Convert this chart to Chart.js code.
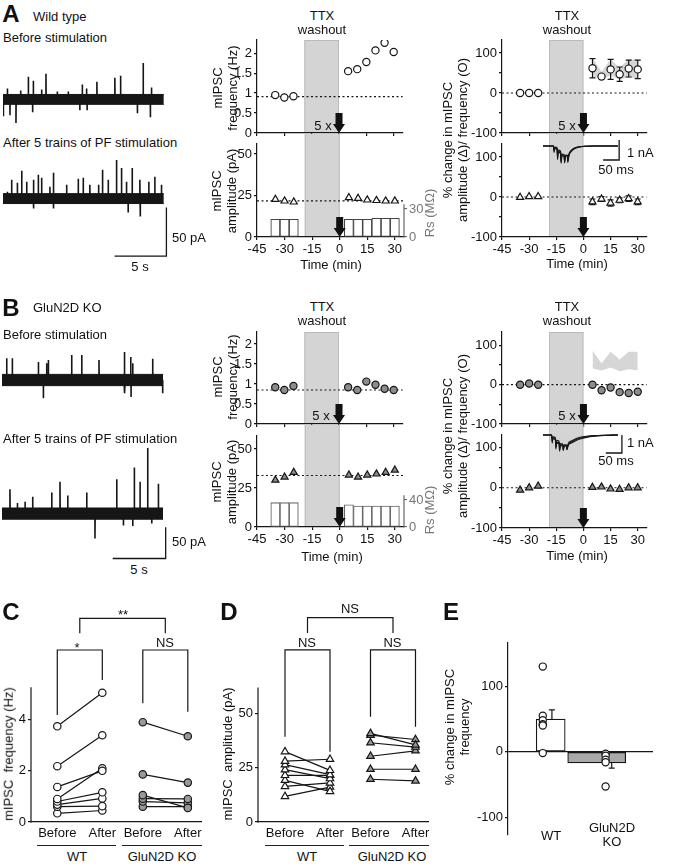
<!DOCTYPE html>
<html>
<head>
<meta charset="utf-8">
<title>mIPSC after PF stimulation</title>
<script src="https://cdn.jsdelivr.net/npm/chart.js@4.4.1/dist/chart.umd.min.js"></script>
<style>
  body { margin: 0; background: #fff; }
  #page { position: relative; width: 678px; height: 866px; overflow: hidden; background: #fff;
          font-family: Arial, "Liberation Sans", Helvetica, sans-serif; color: #111; }
  #page canvas { position: absolute; }
  .t { position: absolute; white-space: nowrap; font-size: 13px; line-height: 14.5px; text-align: center;
       transform: translate(-50%, -50%); }
  .left { transform: translate(0, -50%); text-align: left; }
  .rot { transform: translate(-50%, -50%) rotate(-90deg); }
  .big { font-size: 24px; font-weight: bold; line-height: 24px; }
  .rule { position: absolute; height: 0; border-top: 1.2px solid #222; }
</style>
</head>
<body>
<div id="page"></div>
<script>
// ---- time course (min) ----
const timePre = [-35, -30, -25];
const timePost = [5, 10, 15, 20, 25, 30];
const timeTicks = [-45, -30, -15, 0, 15, 30];
const washout = [-19, 0];

// wild type
const wtFreqPre = [0.95, 0.89, 0.92];
const wtFreqPost = [1.55, 1.6, 1.78, 2.07, 2.26, 2.03];
const wtFreqBase = 0.91;
const wtAmpPre = [22.7, 21.7, 21.1];
const wtAmpPost = [23.7, 23.3, 22.3, 22, 21.7, 21.7];
const wtAmpBase = 21.8;
const wtRsPre = [19, 19, 19];
const wtRsPost = [19, 19, 19, 20, 20, 20];
const wtPctFreqPre = [0, 0, 0];
const wtPctFreqPost = [62, 41, 59, 47, 61, 59];
const wtPctFreqSem = [24, 5, 25, 18, 21, 23];
const wtBandHigh = [87, 54, 84, 64, 84, 84];
const wtBandLow = [41, 36, 44, 34, 39, 36];
const wtPctAmpPre = [-1, 1, 1];
const wtPctAmpPost = [-12, -5, -15, -8, -4, -12];
const wtPctAmpSem = [7, 6, 8, 6, 7, 7];

// GluN2D KO
const koFreqPre = [0.92, 0.85, 0.95];
const koFreqPost = [0.92, 0.85, 1.06, 0.98, 0.88, 0.85];
const koFreqBase = 0.85;
const koAmpPre = [30, 32, 35];
const koAmpPost = [33.3, 32, 33.3, 34, 35, 36.5];
const koAmpBase = 33;
const koRsPre = [36, 36, 36];
const koRsPost = [33, 31, 31, 31, 31, 31];
const koPctFreqPre = [0, 3, 0];
const koPctFreqPost = [0, -14, -7, -19, -21, -18];
const koPctAmpPre = [-6, 0, 4];
const koPctAmpPost = [1, 2, -3, -4, 0, 0];

// ---- raw traces: times (s) and peak sizes (pA) of the larger events ----
const wtBeforeT = [0.03, 0.42, 0.67, 1.25, 1.70, 2.44, 2.85, 2.92, 3.72, 4.14, 5.23, 6.29, 7.40, 7.64, 8.05, 8.10, 9.05, 10.78, 11.33, 12.95, 13.51, 14.20, 14.31];
const wtBeforeA = [-17, 11, -16, -24, 9, 23, -13, 19, 10, 26, 8, 8, -11, 15, 11, -11, 18, 22, 24, -14, 37, -18, 12];
const wtAfterT = [0.42, 0.83, 1.38, 1.80, 2.28, 2.92, 2.96, 3.40, 3.72, 4.52, 4.84, 4.88, 6.13, 7.25, 7.73, 8.37, 9.21, 9.59, 10.14, 10.94, 11.42, 11.90, 12.06, 12.45, 13.19, 13.23, 14.05, 14.63, 15.27];
const wtAfterA = [7, 19, 16, 28, 17, 19, -10, 24, 21, 12, 26, -10, 14, 20, 21, 14, 14, 29, 19, 39, 31, 17, -14, 31, 19, -18, 17, 22, 14];
const koBeforeT = [0.44, 0.97, 3.43, 3.90, 4.21, 4.37, 6.57, 7.52, 9.15, 11.51, 11.60, 12.14, 12.17, 12.33, 14.21, 15.15];
const koBeforeA = [35, 35, 29, -29, 27, 32, 40, 40, 32, 45, -21, 37, -27, 27, 34, -21];
const koAfterT = [0.75, 1.45, 2.17, 2.89, 4.69, 5.47, 6.20, 7.99, 8.77, 10.82, 11.45, 12.33, 12.48, 13.02, 13.74, 14.12, 14.75];
const koAfterA = [39, 17, 19, 27, 34, 51, 29, 34, -40, 55, -19, -20, 74, 51, 105, -16, 48];

// ---- PF-EPSC insets: time (ms), current (nA) ----
const wtInsetT = [0, 33, 34.5, 37, 44, 45.5, 48, 55, 56.5, 59, 66, 67.5, 70, 76, 77.5, 81, 88, 98, 112, 130, 160, 234];
const wtSweep1 = [0, 0, -0.25, -0.08, -0.12, -0.55, -0.25, -0.3, -0.8, -0.45, -0.45, -0.85, -0.5, -0.5, -0.75, -0.45, -0.25, -0.12, -0.05, -0.01, 0, 0];
const wtSweep2 = [0, 0, -0.32, -0.12, -0.18, -0.68, -0.32, -0.36, -0.86, -0.5, -0.5, -0.8, -0.48, -0.45, -0.7, -0.4, -0.22, -0.1, -0.04, -0.01, 0, 0];
const wtSweep3 = [0, 0, -0.18, -0.05, -0.08, -0.45, -0.2, -0.25, -0.7, -0.4, -0.42, -0.78, -0.47, -0.48, -0.82, -0.48, -0.28, -0.14, -0.06, -0.02, 0, 0];
const koInsetT = [0, 27, 28.5, 31, 38.5, 40, 42.5, 50, 51.5, 54, 61.5, 63, 65.5, 73, 74.5, 78, 88, 100, 115, 135, 160, 190, 233];
const koSweep1 = [0, 0, -0.35, -0.15, -0.2, -0.7, -0.4, -0.42, -0.85, -0.55, -0.55, -0.87, -0.6, -0.58, -0.82, -0.55, -0.4, -0.28, -0.18, -0.1, -0.05, -0.02, 0];
const koSweep2 = [0, 0, -0.25, -0.1, -0.15, -0.55, -0.3, -0.35, -0.75, -0.48, -0.5, -0.8, -0.55, -0.55, -0.78, -0.5, -0.33, -0.22, -0.13, -0.07, -0.03, -0.01, 0];
const koSweep3 = [0, 0, -0.45, -0.2, -0.28, -0.78, -0.45, -0.48, -0.9, -0.6, -0.6, -0.85, -0.62, -0.6, -0.8, -0.58, -0.45, -0.33, -0.22, -0.13, -0.07, -0.03, 0];

// ---- C / D paired data ----
const cdX = [1, 2, 2.9, 3.9];
const cdLabels = ['Before', 'After', 'Before', 'After'];
const cWtBefore = [3.74, 2.18, 1.37, 0.9, 0.8, 0.68, 0.6, 0.34];
const cWtAfter = [5.05, 3.39, 2.0, 2.1, 1.16, 0.92, 0.62, 0.45];
const cKoBefore = [3.9, 1.86, 1.05, 0.91, 0.8, 0.6];
const cKoAfter = [3.35, 1.54, 0.55, 0.9, 0.75, 0.6];
const dWtBefore = [32.4, 28, 26.4, 24.1, 21.5, 19.2, 16.4, 11.8];
const dWtAfter = [23.8, 28.9, 21.8, 20, 21.5, 14.1, 18, 16.1];
const dKoBefore = [40.8, 40, 36.5, 30.3, 24.3, 19.7];
const dKoAfter = [35.5, 38, 34.5, 32.8, 24.3, 18.9];
// significance brackets (x positions, y values)
const brX = [[1, 1, 2, 2], [2.9, 2.9, 3.9, 3.9], [1.5, 1.5, 3.4, 3.4]];
const cBrY = [[4.18, 6.72, 6.72, 5.55], [4.64, 6.72, 6.72, 4.31], [7.38, 7.96, 7.96, 7.38]];
const dBrY = [[39.3, 79.3, 79.3, 32.4], [48.5, 79.3, 79.3, 43.9], [87.1, 94.1, 94.1, 87.1]];

// ---- E ----
const eMeans = [50, -17];
const eSem = [14, 8];
const eBarX = [1, 1.754];
const eErrX = [1.02, 2];
const eWt = [130, 55, 48, 42, 40, -2];
const eKo = [-3, -6, -12, -16, -53];

// ---------- helpers ----------
const page = document.getElementById('page');
const INK = '#161616';
Chart.defaults.font.family = 'Arial, "Liberation Sans", Helvetica, sans-serif';
Chart.defaults.font.size = 13;
Chart.defaults.color = '#111';
Chart.defaults.animation = false;
Chart.defaults.responsive = false;
Chart.defaults.plugins.legend.display = false;
Chart.defaults.plugins.tooltip.enabled = false;
Chart.defaults.elements.line.tension = 0;

function pts(xs, ys) { return xs.map((x, i) => ({x, y: ys[i]})); }
function setTicks(vals) { return s => { s.ticks = vals.map(v => ({value: v})); }; }

function addCanvas(x, y, w, h) {
  const c = document.createElement('canvas');
  c.width = w; c.height = h;
  c.style.left = x + 'px'; c.style.top = y + 'px';
  c.style.width = w + 'px'; c.style.height = h + 'px';
  page.appendChild(c);
  return c;
}

// box = plot area [x0, y0, x1, y1]; m = [left, top, right, bottom] room round it
function mk(box, m, cfg, ex) {
  const [x0, y0, x1, y1] = box;
  const [l, t, r, b] = m;
  const c = addCanvas(x0 - l, y0 - t, x1 - x0 + l + r, y1 - y0 + t + b);
  c.$x = ex || {};
  const sc = cfg.options.scales;
  const pad = {left: l, top: t, right: r, bottom: b};
  if (sc.y && sc.y.display !== false) { sc.y.afterFit = s => { s.width = l; }; pad.left = 0; }
  if (sc.x && sc.x.display !== false) { sc.x.afterFit = s => { s.height = b; }; pad.bottom = 0; }
  if (sc.y2 && sc.y2.display !== false) { sc.y2.afterFit = s => { s.width = r; }; pad.right = 0; }
  cfg.options.layout = {padding: pad};
  return new Chart(c, cfg);
}

function linAxis(min, max, ticks, labels, extra) {
  const shown = labels || ticks;
  return Object.assign({
    type: 'linear', min, max, offset: false,
    afterBuildTicks: setTicks(ticks),
    border: {display: true, color: INK, width: 1.2},
    grid: {display: true, offset: false, drawOnChartArea: false, drawTicks: true, tickLength: 3, color: INK, lineWidth: 1.2},
    ticks: {padding: 2, color: '#111', callback: v => shown.includes(v) ? String(v) : ''}
  }, extra || {});
}
const timeAxis = (labels) => linAxis(-45, 35, timeTicks, null, labels ? {} : {ticks: {display: false}});

function pointSet(data, shape, fill) {
  return {type: 'line', data, showLine: false, pointStyle: shape,
    pointRadius: shape === 'triangle' ? 4.1 : 3.6, pointBorderWidth: 1.2,
    pointBorderColor: INK, pointBackgroundColor: fill};
}
function lineSet(data, dash) {
  return {type: 'line', data, borderColor: INK, borderWidth: 1.2, borderDash: dash || [], pointRadius: 0, fill: false};
}
function pairSet(xs, b, a, shape, fill) {
  return {type: 'line', data: pts(xs, [b, a]), borderColor: INK, borderWidth: 1.2,
    pointStyle: shape, pointRadius: shape === 'triangle' ? 4.3 : 3.7, pointBorderWidth: 1.2,
    pointBorderColor: INK, pointBackgroundColor: fill};
}

const extras = {
  id: 'extras',
  beforeDraw(chart) {
    const o = chart.canvas.$x || {};
    if (!o.shade) return;
    const {ctx, chartArea: a} = chart, x = chart.scales.x;
    const l = x.getPixelForValue(o.shade[0]), r = x.getPixelForValue(o.shade[1]);
    const top = a.top - (o.shadeUp || 0);
    ctx.save();
    ctx.fillStyle = '#d4d4d4';
    ctx.fillRect(l, top, r - l, a.bottom - top);
    ctx.strokeStyle = '#bbbbbb'; ctx.lineWidth = 1;
    ctx.beginPath();
    ctx.moveTo(l + 0.5, top); ctx.lineTo(l + 0.5, a.bottom);
    ctx.moveTo(r - 0.5, top); ctx.lineTo(r - 0.5, a.bottom);
    if (!o.shadeUp) { ctx.moveTo(l, top + 0.5); ctx.lineTo(r, top + 0.5); }
    ctx.stroke();
    ctx.restore();
  },
  beforeDatasetDraw(chart, args) {
    const o = chart.canvas.$x || {};
    (o.errors || []).forEach(e => {
      const at = e.at === undefined ? e.ds : e.at;
      if (at !== args.index) return;
      const ds = chart.data.datasets[e.ds], meta = chart.getDatasetMeta(e.ds);
      const ys = chart.scales[meta.yAxisID], ctx = chart.ctx;
      ctx.save(); ctx.strokeStyle = INK; ctx.lineWidth = 1.2;
      meta.data.forEach((p, i) => {
        const v = ds.data[i].y, s = e.sem[i];
        const hi = e.oneSided ? v + Math.sign(v) * s : v + s;
        const lo = e.oneSided ? v : v - s;
        const y1 = ys.getPixelForValue(hi), y2 = ys.getPixelForValue(lo);
        ctx.beginPath();
        ctx.moveTo(p.x, y1); ctx.lineTo(p.x, y2);
        ctx.moveTo(p.x - 3, y1); ctx.lineTo(p.x + 3, y1);
        if (!e.oneSided) { ctx.moveTo(p.x - 3, y2); ctx.lineTo(p.x + 3, y2); }
        ctx.stroke();
      });
      ctx.restore();
    });
  },
  afterDraw(chart) {
    const o = chart.canvas.$x || {};
    const {ctx, chartArea: a, scales} = chart;
    ctx.save();
    if (o.arrow !== undefined) {
      const x = scales.x.getPixelForValue(o.arrow), yb = a.bottom, yt = yb - 20;
      ctx.fillStyle = '#111';
      ctx.fillRect(x - 3.5, yt, 7, 12);
      ctx.beginPath();
      ctx.moveTo(x - 6, yt + 11); ctx.lineTo(x + 6, yt + 11); ctx.lineTo(x, yb);
      ctx.closePath(); ctx.fill();
    }
    if (o.shortAxis) {
      const sa = o.shortAxis, s = scales[sa.id];
      const x = sa.id === 'y2' ? s.left : s.right;
      ctx.strokeStyle = sa.color; ctx.lineWidth = 1.2;
      ctx.beginPath();
      ctx.moveTo(x, s.getPixelForValue(0) + 0.6); ctx.lineTo(x, s.getPixelForValue(sa.to));
      ctx.stroke();
    }
    if (o.scaleBar) {
      const {t, v} = o.scaleBar;
      const xa = scales.x.getPixelForValue(t[0]), xb = scales.x.getPixelForValue(t[1]);
      const ya = scales.y.getPixelForValue(v[0]), yb = scales.y.getPixelForValue(v[1]);
      ctx.strokeStyle = INK; ctx.lineWidth = 1.3;
      ctx.beginPath();
      ctx.moveTo(xb, ya); ctx.lineTo(xb, yb); ctx.lineTo(xa, yb);
      ctx.stroke();
    }
    ctx.restore();
  }
};
Chart.register(extras);

function txt(s, x, y, cls, color) {
  const d = document.createElement('div');
  d.className = 't ' + (cls || '');
  d.innerHTML = s;
  d.style.left = x + 'px'; d.style.top = y + 'px';
  if (color) d.style.color = color;
  page.appendChild(d);
}
function rule(x0, x1, y) {
  const d = document.createElement('div');
  d.className = 'rule';
  d.style.left = x0 + 'px'; d.style.top = y + 'px'; d.style.width = (x1 - x0) + 'px';
  page.appendChild(d);
}

// ---------- time-course panels ----------
function midPanel(p) {
  mk(p.freqBox, [34, 12, 4, 12], {
    type: 'line',
    data: {datasets: [
      pointSet(pts(timePre, p.freqPre), 'circle', p.fill),
      pointSet(pts(timePost, p.freqPost), 'circle', p.fill),
      lineSet(pts([-45, 35], [p.freqBase, p.freqBase]), [2, 2.5])
    ]},
    options: {scales: {x: timeAxis(false), y: linAxis(0, p.freqMax, [0, 0.5, 1, 1.5, 2])}}
  }, {shade: washout, arrow: 0});

  const rsAxis = linAxis(0, p.rsMax, p.rsTicks);
  rsAxis.position = 'right';
  rsAxis.border = {display: false};
  rsAxis.grid = {display: true, drawOnChartArea: false, drawTicks: true, tickLength: 3, color: '#666', lineWidth: 1.1};
  rsAxis.ticks = {padding: 2, color: '#777', callback: v => String(v)};
  mk(p.ampBox, [34, 12, 26, 22], {
    type: 'line',
    data: {datasets: [
      pointSet(pts(timePre, p.ampPre), 'triangle', p.fill),
      pointSet(pts(timePost, p.ampPost), 'triangle', p.fill),
      lineSet(pts([-45, 35], [p.ampBase, p.ampBase]), [2, 2.5]),
      {type: 'bar', yAxisID: 'y2', data: pts(timePre.concat(timePost), p.rsPre.concat(p.rsPost)),
        backgroundColor: '#fff', borderColor: p.barEdge, borderWidth: 1.1, borderSkipped: false,
        barPercentage: 1, categoryPercentage: 1}
    ]},
    options: {scales: {x: timeAxis(true), y: linAxis(0, p.ampMax, [0, 25, 50]), y2: rsAxis}}
  }, {shade: washout, shadeUp: p.gap, arrow: 0, shortAxis: {id: 'y2', to: p.rsTop, color: '#666'}});
}

function rightPanel(p) {
  const pctTicks = [-100, -50, 0, 50, 100];
  mk(p.topBox, [36, 12, 4, 12], {
    type: 'line',
    data: {datasets: [
      pointSet(pts(timePre, p.freqPre), 'circle', p.fill),
      pointSet(pts(timePost, p.freqPost), 'circle', p.fill),
      lineSet(pts([-45, 35], [0, 0]), [2, 2.5]),
      {type: 'line', data: pts(timePost, wtBandHigh), borderColor: 'rgba(0,0,0,0)', borderWidth: 1, pointRadius: 0, fill: '+1', backgroundColor: '#d6d6d6'},
      {type: 'line', data: pts(timePost, wtBandLow), borderColor: 'rgba(0,0,0,0)', borderWidth: 1, pointRadius: 0, fill: false}
    ]},
    options: {scales: {x: timeAxis(false), y: linAxis(-100, p.topMax, pctTicks, [-100, 0, 100])}}
  }, {shade: washout, arrow: 0, errors: p.freqSem ? [{ds: 1, sem: p.freqSem}] : []});

  mk(p.botBox, [36, 12, 4, 22], {
    type: 'line',
    data: {datasets: [
      pointSet(pts(timePre, p.ampPre), 'triangle', p.fill),
      pointSet(pts(timePost, p.ampPost), 'triangle', p.fill),
      lineSet(pts([-45, 35], [0, 0]), [2, 2.5])
    ]},
    options: {scales: {x: timeAxis(true), y: linAxis(-100, p.botMax, pctTicks, [-100, 0, 100])}}
  }, {shade: washout, shadeUp: 10, arrow: 0, errors: p.ampSem ? [{ds: 1, sem: p.ampSem}] : []});
}

midPanel({freqBox: [257, 40, 404, 133], ampBox: [257, 144, 404, 237], gap: 10, fill: '#fff', barEdge: '#444',
  freqMax: 2.33, ampMax: 56, rsMax: 99.6, rsTicks: [0, 30], rsTop: 35,
  freqPre: wtFreqPre, freqPost: wtFreqPost, freqBase: wtFreqBase,
  ampPre: wtAmpPre, ampPost: wtAmpPost, ampBase: wtAmpBase, rsPre: wtRsPre, rsPost: wtRsPost});
midPanel({freqBox: [257, 332, 404, 424], ampBox: [257, 436, 404, 527], gap: 11, fill: '#8c8c8c', barEdge: '#666',
  freqMax: 2.3, ampMax: 58.3, rsMax: 134.8, rsTicks: [0, 40], rsTop: 47,
  freqPre: koFreqPre, freqPost: koFreqPost, freqBase: koFreqBase,
  ampPre: koAmpPre, ampPost: koAmpPost, ampBase: koAmpBase, rsPre: koRsPre, rsPost: koRsPost});
rightPanel({topBox: [502, 40, 648, 133], botBox: [502, 144, 648, 237], fill: '#fff', topMax: 132.5, botMax: 132.5,
  freqPre: wtPctFreqPre, freqPost: wtPctFreqPost, freqSem: wtPctFreqSem,
  ampPre: wtPctAmpPre, ampPost: wtPctAmpPost, ampSem: wtPctAmpSem});
rightPanel({topBox: [502, 332, 648, 424], botBox: [502, 435, 648, 528], fill: '#8c8c8c', topMax: 134, botMax: 131,
  freqPre: koPctFreqPre, freqPost: koPctFreqPost, ampPre: koPctAmpPre, ampPost: koPctAmpPost});

// ---------- raw traces ----------
function traceChart(box, xMax, yMin, yMax, ts, amps, noise, tEnd, bar) {
  const spikes = [];
  ts.forEach((t, i) => { spikes.push({x: t, y: 0}, {x: t, y: amps[i]}, {x: t + 0.02, y: 0}); });
  mk(box, [0, 0, 0, 0], {
    type: 'line',
    data: {datasets: [
      {data: spikes, borderColor: INK, borderWidth: 1.6, pointRadius: 0, borderJoinStyle: 'bevel'},
      {data: pts([0, tEnd], [noise, noise]), borderColor: INK, borderWidth: 1, pointRadius: 0, fill: '+1', backgroundColor: INK},
      {data: pts([0, tEnd], [-noise, -noise]), borderColor: INK, borderWidth: 1, pointRadius: 0}
    ]},
    options: {scales: {x: {type: 'linear', display: false, min: 0, max: xMax},
                       y: {type: 'linear', display: false, min: yMin, max: yMax}}}
  }, {scaleBar: bar});
}
traceChart([3, 55, 169, 129], 16, -30, 45, wtBeforeT, wtBeforeA, 5, 15.5);
traceChart([3, 155, 169, 259], 16, -61, 44, wtAfterT, wtAfterA, 5, 15.5, {t: [10.75, 15.75], v: [-9, -58]});
traceChart([2, 330, 168, 405], 15.66, -40, 80, koBeforeT, koBeforeA, 9, 15.2);
traceChart([2, 445, 168, 561], 15.66, -76, 110, koAfterT, koAfterA, 9, 15.2, {t: [10.44, 15.44], v: [-22, -72]});

// ---------- EPSC insets ----------
function insetChart(box, xMax, yMin, yMax, t, sweeps, bar) {
  mk(box, [0, 0, 0, 0], {
    type: 'line',
    data: {datasets: sweeps.map(s => ({data: pts(t, s), borderColor: INK, borderWidth: 1.1, pointRadius: 0, cubicInterpolationMode: 'monotone'}))},
    options: {scales: {x: {type: 'linear', display: false, min: 0, max: xMax},
                       y: {type: 'linear', display: false, min: yMin, max: yMax}}}
  }, {scaleBar: bar});
}
insetChart([543, 139, 621, 165], 243.75, -0.95, 0.35, wtInsetT, [wtSweep1, wtSweep2, wtSweep3], {t: [188, 238], v: [0.3, -0.7]});
insetChart([543, 433, 623, 455], 248.4, -1.111, 0.111, koInsetT, [koSweep1, koSweep2, koSweep3], {t: [195, 245], v: [0, -1]});

// ---------- C and D ----------
function pairedPanel(box, leftRoom, xMin, xMax, yMax, yTicks, axisTop, wtB, wtA, koB, koA, shape, brY) {
  const sets = [];
  wtB.forEach((b, i) => sets.push(pairSet(cdX.slice(0, 2), b, wtA[i], shape, '#fff')));
  koB.forEach((b, i) => sets.push(pairSet(cdX.slice(2), b, koA[i], shape, '#999')));
  brY.forEach((ys, i) => sets.push(lineSet(pts(brX[i], ys))));
  const y = linAxis(0, yMax, yTicks);
  y.border = {display: false};
  mk(box, [leftRoom, 12, 12, 22], {
    type: 'line',
    data: {datasets: sets},
    options: {scales: {
      x: {type: 'linear', min: xMin, max: xMax, offset: false, afterBuildTicks: setTicks(cdX),
          border: {display: true, color: INK, width: 1.2}, grid: {display: false, drawTicks: false},
          ticks: {padding: 4, color: '#111', callback: v => cdLabels[cdX.indexOf(v)]}},
      y
    }}
  }, {shortAxis: {id: 'y', to: axisTop, color: INK}});
}
pairedPanel([31, 606, 201, 822], 31, 0.416, 4.193, 8.44, [0, 2, 4], 5.27, cWtBefore, cWtAfter, cKoBefore, cKoAfter, 'circle', cBrY);
pairedPanel([258, 606, 428, 822], 30, 0.4, 4.178, 99.5, [0, 25, 50], 62, dWtBefore, dWtAfter, dKoBefore, dKoAfter, 'triangle', dBrY);

// ---------- E ----------
const eY = linAxis(-127, 166, [-100, 0, 100]);
eY.grid = {display: true, drawOnChartArea: true, drawTicks: true, tickLength: 3, lineWidth: 1.2,
  color: c => (c.tick && c.tick.value === 0) ? INK : 'rgba(0,0,0,0)', tickColor: INK};
mk([508, 643, 653, 835], [36, 12, 6, 10], {
  type: 'line',
  data: {datasets: [
    pointSet(eWt.map(v => ({x: 0.87, y: v})), 'circle', '#fff'),
    pointSet(eKo.map(v => ({x: 1.9, y: v})), 'circle', '#fff'),
    {type: 'line', data: pts(eErrX, eMeans), showLine: false, pointRadius: 0},
    {type: 'bar', data: [{x: eBarX[0], y: eMeans[0]}], backgroundColor: '#fff', borderColor: INK,
      borderWidth: 1.2, borderSkipped: false, barThickness: 29, grouped: false},
    {type: 'bar', data: [{x: eBarX[1], y: eMeans[1]}], backgroundColor: '#a9a9a9', borderColor: INK,
      borderWidth: 1.2, borderSkipped: false, barThickness: 58, grouped: false}
  ]},
  options: {scales: {x: {type: 'linear', display: false, min: 0.3, max: 2.677, offset: false, afterBuildTicks: setTicks([1, 2])}, y: eY}}
}, {errors: [{ds: 2, sem: eSem, oneSided: true}]});

// ---------- text ----------
txt('A', 11, 14, 'big');
txt('Wild type', 33, 17, 'left');
txt('Before stimulation', 3, 38, 'left');
txt('After 5 trains of PF stimulation', 3, 143, 'left');
txt('50 pA', 172, 238, 'left');
txt('5 s', 140, 267);
txt('B', 11, 308, 'big');
txt('GluN2D KO', 33, 308, 'left');
txt('Before stimulation', 3, 335, 'left');
txt('After 5 trains of PF stimulation', 3, 439, 'left');
txt('50 pA', 172, 542, 'left');
txt('5 s', 139, 570);

[[322, 16, 30], [567, 16, 30], [322, 307, 321], [567, 307, 321]].forEach(([x, a, b]) => {
  txt('TTX', x, a); txt('washout', x, b);
});
[[323, 126], [567, 126], [321, 416], [567, 416]].forEach(([x, y]) => txt('5 x', x, y));
[[331, 265], [577, 264], [332, 557], [577, 556]].forEach(([x, y]) => txt('Time (min)', x, y));

txt('mIPSC<br>frequency (Hz)', 225, 88, 'rot');
txt('mIPSC<br>amplitude (pA)', 223.5, 191, 'rot');
txt('mIPSC<br>frequency (Hz)', 225, 377, 'rot');
txt('mIPSC<br>amplitude (pA)', 223.5, 482, 'rot');
txt('Rs (M&Omega;)', 430, 213, 'rot', '#777');
txt('Rs (M&Omega;)', 430, 510, 'rot', '#777');
txt('% change in mIPSC<br>amplitude (&Delta;)/ frequency (O)', 455, 140, 'rot');
txt('% change in mIPSC<br>amplitude (&Delta;)/ frequency (O)', 455, 436, 'rot');
txt('1 nA', 627, 153, 'left');
txt('50 ms', 616, 170);
txt('1 nA', 627, 443, 'left');
txt('50 ms', 616, 461);

txt('C', 11, 612, 'big');
txt('D', 229, 612, 'big');
txt('E', 451, 612, 'big');
txt('mIPSC&nbsp; frequency (Hz)', 9, 754, 'rot');
txt('mIPSC&nbsp; amplitude (pA)', 228, 754, 'rot');
txt('% change in mIPSC<br>frequency', 456.7, 727, 'rot');
txt('*', 77, 648);
txt('**', 123, 615);
txt('NS', 165, 643);
txt('NS', 307, 643);
txt('NS', 392.5, 643);
txt('NS', 350, 609);
rule(37, 116, 845); rule(122, 202, 845);
rule(265, 344, 845); rule(349, 429, 845);
txt('WT', 77, 857); txt('GluN2D KO', 162, 857);
txt('WT', 307, 857); txt('GluN2D KO', 392, 857);
txt('WT', 551, 836);
txt('GluN2D', 612, 828);
txt('KO', 612, 842);
</script>
</body>
</html>
